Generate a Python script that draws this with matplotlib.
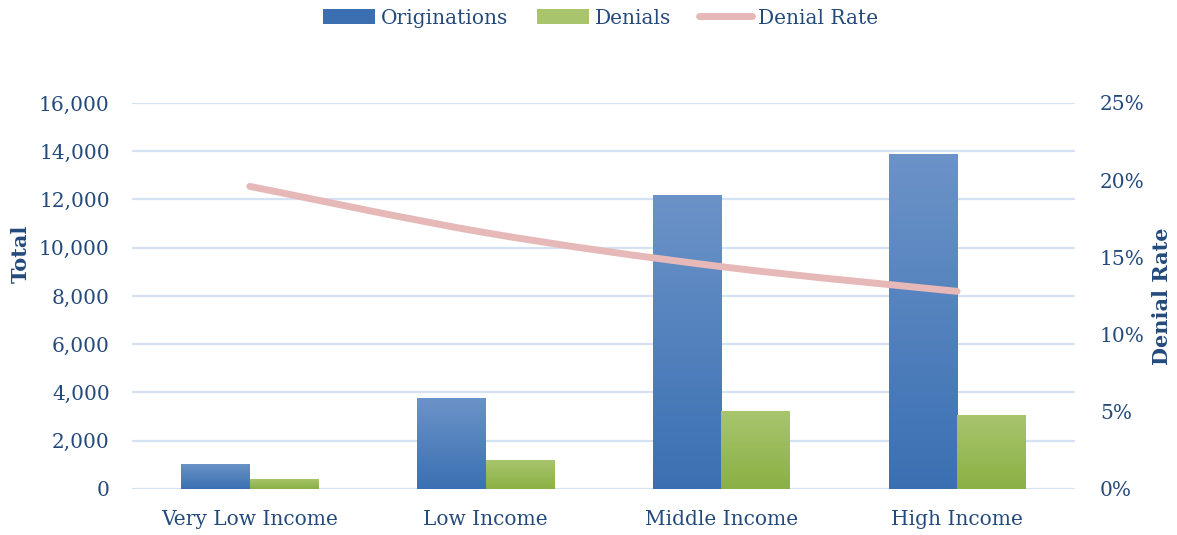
"""Originations, denials and denial rate by income group."""

import matplotlib
matplotlib.use("Agg")
import matplotlib.pyplot as plt
import numpy as np
from matplotlib.lines import Line2D
from matplotlib.patches import Patch, PathPatch
from matplotlib.path import Path
from matplotlib.colors import LinearSegmentedColormap
from matplotlib.ticker import FuncFormatter

categories = ["Very Low Income", "Low Income", "Middle Income", "High Income"]
originations = [1040, 3770, 12190, 13880]
denials = [415, 1200, 3230, 3070]
denial_rate = [0.196, 0.166, 0.144, 0.128]

TEXT = "#244A7C"
GRID = "#D5E2F3"
BLUE_TOP, BLUE_BOT = "#6C93C8", "#3A70B2"
GREEN_TOP, GREEN_BOT = "#A8C56E", "#8BB044"
PINK = "#E6B9B8"
FONT = "DejaVu Serif"

plt.rcParams["font.family"] = FONT


def _gradient_bars(ax, bars, top, bottom):
    cmap = LinearSegmentedColormap.from_list("g", [bottom, top])
    grad = np.linspace(0, 1, 256).reshape(-1, 1)
    for bar in bars:
        x0, y0 = bar.get_x(), bar.get_y()
        x1, y1 = x0 + bar.get_width(), y0 + bar.get_height()
        im = ax.imshow(grad, cmap=cmap, aspect="auto", origin="lower",
                       extent=(x0, x1, y0, y1), zorder=bar.get_zorder())
        im.set_clip_path(bar)


def _smooth_path(xs, ys):
    # Catmull-Rom style bezier, like the spreadsheet "smoothed line"
    pts = np.column_stack([xs, ys]).astype(float)
    n = len(pts)
    verts = [pts[0]]
    codes = [Path.MOVETO]
    for i in range(n - 1):
        p0 = pts[i - 1] if i > 0 else pts[i]
        p1, p2 = pts[i], pts[i + 1]
        p3 = pts[i + 2] if i + 2 < n else pts[i + 1]
        verts += [p1 + (p2 - p0) / 6, p2 - (p3 - p1) / 6, p2]
        codes += [Path.CURVE4] * 3
    return Path(verts, codes)


fig = plt.figure(figsize=(11.77, 5.35), dpi=100)
ax = fig.add_axes([0.1121, 0.086, 0.8012, 0.7215])

x = np.arange(len(categories))
w = 0.29
b1 = ax.bar(x - w / 2, originations, w, color=BLUE_BOT, zorder=2)
b2 = ax.bar(x + w / 2, denials, w, color=GREEN_BOT, zorder=2)
_gradient_bars(ax, b1, BLUE_TOP, BLUE_BOT)
_gradient_bars(ax, b2, GREEN_TOP, GREEN_BOT)

ax.set_xlim(-0.5, len(categories) - 0.5)
ax.set_ylim(0, 16000)
ax.set_yticks(np.arange(0, 16001, 2000))
ax.yaxis.set_major_formatter(FuncFormatter(lambda v, p: f"{v:,.0f}"))
ax.set_xticks(x)
ax.set_xticklabels(categories)
ax.grid(axis="y", color=GRID, lw=1.6, zorder=0)
ax.set_axisbelow(True)
for s in ax.spines.values():
    s.set_visible(False)
ax.tick_params(axis="both", length=0, labelsize=14.5, labelcolor=TEXT)
ax.tick_params(axis="y", pad=16)
ax.tick_params(axis="x", pad=15)
ax.set_ylabel("Total", fontsize=15, fontweight="bold", color=TEXT)
ax.yaxis.set_label_coords(-0.107, 0.61)

ax2 = ax.twinx()
ax2.set_ylim(0, 0.25)
ax2.set_yticks(np.arange(0, 0.251, 0.05))
ax2.yaxis.set_major_formatter(FuncFormatter(lambda v, p: f"{v * 100:.0f}%"))
for s in ax2.spines.values():
    s.set_visible(False)
ax2.tick_params(axis="y", length=0, labelsize=14.5, labelcolor=TEXT, pad=18)
ax2.set_ylabel("Denial Rate", fontsize=15, fontweight="bold", color=TEXT)
ax2.yaxis.set_label_coords(1.0817, 0.5)
ax2.add_patch(PathPatch(_smooth_path(x, denial_rate), fill=False, edgecolor=PINK,
                        lw=5, capstyle="round", zorder=3))

handles = [
    Patch(facecolor=BLUE_BOT, edgecolor="none"),
    Patch(facecolor=GREEN_TOP, edgecolor="none"),
    Line2D([], [], color=PINK, lw=5, solid_capstyle="round"),
]
fig.legend(handles, ["Originations", "Denials", "Denial Rate"], loc="center",
           bbox_to_anchor=(0.51, 0.966), ncol=3, frameon=False, fontsize=14.5,
           labelcolor=TEXT, handlelength=2.6, handleheight=0.8,
           handletextpad=0.3, columnspacing=1.4)

fig.savefig("out.png", dpi=100)
